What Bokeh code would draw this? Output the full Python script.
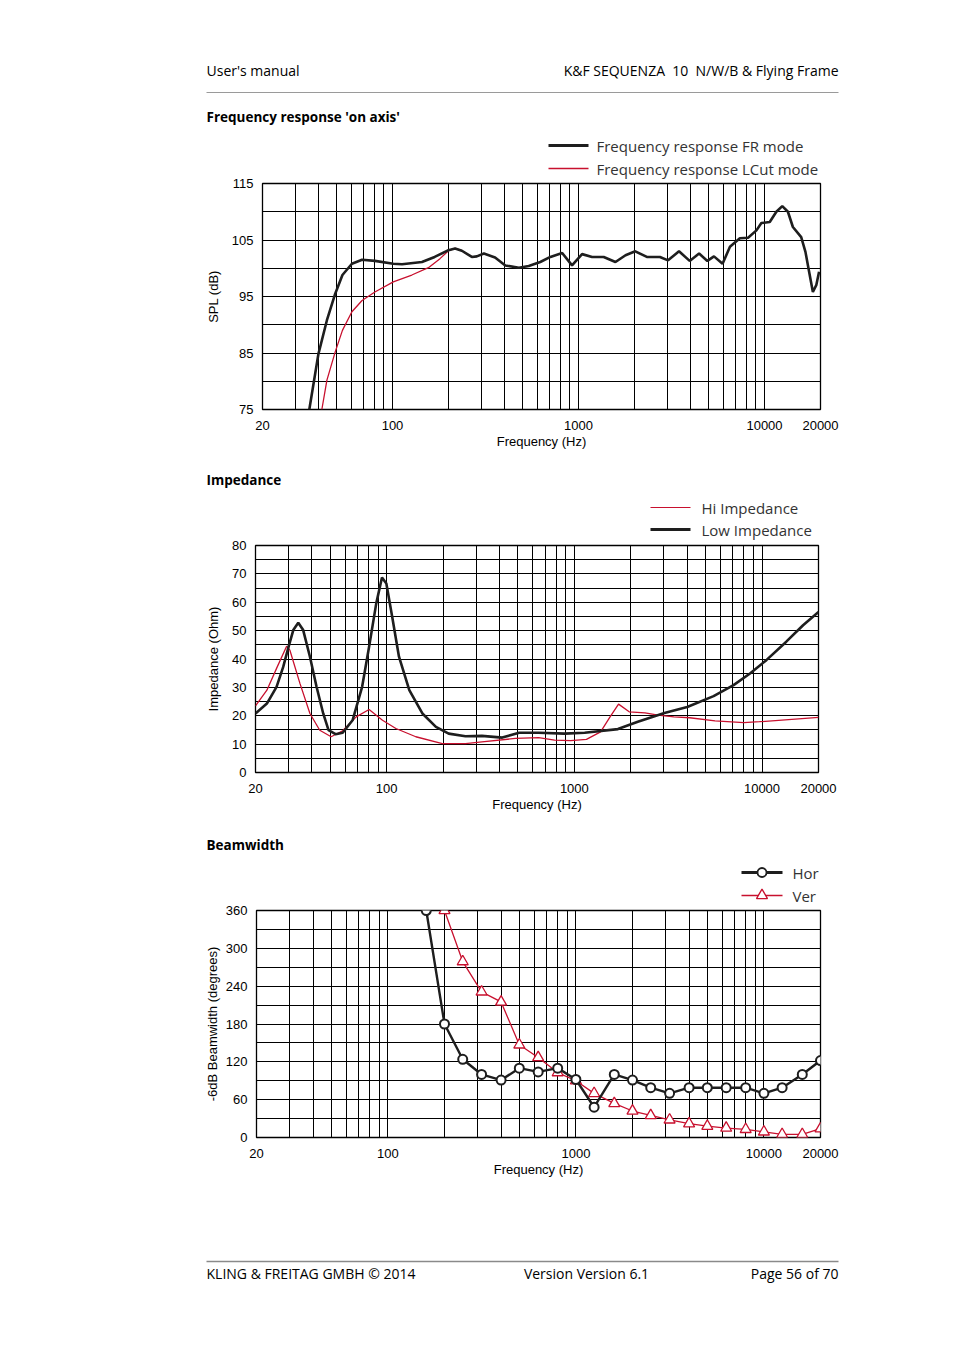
from bokeh.plotting import figure
from bokeh.models import Range1d, FixedTicker
from bokeh.embed import file_html
from bokeh.resources import INLINE
from bokeh.core.properties import value

# ---------------- data ----------------
header_left = "User's manual"
header_right = "K&F SEQUENZA\u00a0\u00a010\u00a0\u00a0N/W/B & Flying Frame"
footer_left = "KLING & FREITAG GMBH \u00a9 2014"
footer_center = "Version Version 6.1"
footer_right = "Page 56 of 70"

x_tick_values = [20, 100, 1000, 10000, 20000]
x_tick_labels = ["20", "100", "1000", "10000", "20000"]
x_grid_values = [30, 40, 50, 60, 70, 80, 90, 100, 200, 300, 400, 500, 600, 700, 800, 900,
                 1000, 2000, 3000, 4000, 5000, 6000, 7000, 8000, 9000, 10000]

# Frequency response
fr_title = "Frequency response 'on axis'"
fr_labels = ["Frequency response FR mode", "Frequency response LCut mode"]
spl_ticks = [75, 85, 95, 105, 115]
spl_grid = [75, 80, 85, 90, 95, 100, 105, 110, 115]
fr_freq = [35.7, 40, 44.4, 49.2, 53.8, 60.5, 68.6, 80.4, 101, 112.5, 144, 168.5, 200, 217, 236,
           267, 284, 310, 356, 404, 478, 540, 623, 706, 817, 923, 1045, 1183, 1366, 1580, 1790,
           2020, 2330, 2740, 3030, 3470, 3960, 4450, 4930, 5350, 5950, 6520, 7370, 8160, 9050,
           9620, 10670, 11580, 12460, 13360, 14210, 15750, 16600, 17300, 18200, 18980, 19650]
fr_spl = [75.0, 84.9, 90.8, 95.5, 98.8, 100.8, 101.5, 101.3, 100.8, 100.7, 101.1, 102.0, 103.2, 103.5, 103.1,
          102.0, 102.1, 102.6, 101.9, 100.5, 100.1, 100.4, 101.1, 102.0, 102.7, 100.5, 102.5, 102.0, 102.0, 101.1, 102.3,
          103.0, 102.0, 102.0, 101.4, 103.0, 101.3, 102.6, 101.3, 102.1, 100.8, 103.8, 105.3, 105.4, 106.7,
          108.0, 108.2, 110.0, 111.0, 110.0, 107.3, 105.5, 102.9, 99.7, 95.8, 97.0, 99.4]
lcut_freq = [41.7, 44.4, 49.2, 53.8, 60.5, 68.6, 80.4, 101, 127, 156, 180, 200, 217, 236, 267, 284, 310, 356]
lcut_spl = [75.0, 80.2, 85.2, 89.0, 92.3, 94.3, 95.8, 97.6, 98.8, 100.1, 101.7, 103.1, 103.5, 103.1, 102.0, 102.1, 102.6, 101.9]

# Impedance
imp_title = "Impedance"
imp_labels = ["Hi Impedance", "Low Impedance"]
imp_ticks = [0, 10, 20, 30, 40, 50, 60, 70, 80]
imp_grid = [0, 5, 10, 15, 20, 25, 30, 35, 40, 45, 50, 55, 60, 65, 70, 75, 80]
low_freq = [20, 23.0, 25.9, 28.1, 30, 31.8, 33.8, 35.9, 39.0, 42.3, 45.9, 49.0, 53.4, 58.3, 65.8, 74.0,
            80.6, 88.0, 94.4, 99.6, 107, 116.3, 132, 155, 183, 214, 263, 322, 413, 508, 645, 887,
            1135, 1707, 2179, 3020, 3996, 5520, 7050, 8630, 10550, 13470, 16550, 20000]
low_ohm = [20.8, 24.3, 30.2, 37.2, 44.3, 50.2, 52.8, 50.2, 40.8, 30.2, 20.8, 14.9, 13.5, 14.0, 18.4, 30.2,
           44.3, 59.6, 68.7, 66.6, 54.9, 40.8, 29.0, 20.8, 16.1, 13.7, 12.8, 12.9, 12.3, 14.0, 14.0, 13.7,
           14.0, 15.3, 17.9, 21.0, 23.1, 26.9, 30.8, 34.9, 39.6, 46.1, 51.9, 56.6]
hi_freq = [20, 23.0, 25.9, 29.3, 30.5, 34.5, 39.0, 44.0, 50.6, 58.3, 68.8, 80.6, 95.0, 112, 143, 198,
           263, 322, 486, 645, 785, 955, 1160, 1380, 1550, 1720, 1960, 2380, 2790, 3390, 4120, 5620,
           8000, 9700, 20000]
hi_ohm = [23.5, 29.0, 36.7, 44.5, 43.1, 31.4, 20.8, 14.9, 12.6, 14.7, 19.6, 22.2, 18.4, 15.5, 12.6, 10.2,
          10.2, 10.8, 12.0, 12.3, 11.4, 11.2, 11.7, 14.3, 19.6, 24.1, 21.4, 21.0, 20.2, 19.6, 19.3, 18.2,
          17.6, 17.9, 19.4]

# Beamwidth
bw_title = "Beamwidth"
bw_labels = ["Hor", "Ver"]
bw_ticks = [0, 60, 120, 180, 240, 300, 360]
bw_grid = [0, 30, 60, 90, 120, 150, 180, 210, 240, 270, 300, 330, 360]
hor_freq = [160, 200, 250, 315, 400, 500, 630, 800, 1000, 1250, 1600, 2000, 2500, 3150, 4000, 5000,
            6300, 8000, 10000, 12500, 16000, 20000]
hor_deg = [360, 180, 124, 100, 91, 110, 104, 110, 92, 48, 100, 91, 79, 70, 79, 79, 79, 79, 70, 79, 100, 122]
ver_freq = [200, 250, 315, 400, 500, 630, 800, 1000, 1250, 1600, 2000, 2500, 3150, 4000, 5000,
            6300, 8000, 10000, 12500, 16000, 20000]
ver_deg = [360, 279, 231, 215, 147, 127, 103, 90, 70, 54, 42, 35, 28, 22, 18, 15, 13, 9, 5, 5, 14]

# ---------------- style ----------------
W = 954
SANS = "Open Sans"
AX = "Liberation Sans"
RED = "#c8102e"
BLACK = "#1e1e1e"
LEG_TXT = "#333333"
OVERLAP = 12  # strips overlap the next chart a little (chart canvas is transparent there)


def text_fig(y0, y1):
    """A blank strip of the page; its data coordinates are page pixels."""
    p = figure(width=W, height=y1 - y0, x_range=Range1d(0, W), y_range=Range1d(y1, y0),
               x_axis_type=None, y_axis_type=None, toolbar_location=None,
               output_backend="svg", min_border=0, title=None)
    p.outline_line_color = None
    return p


def put_text(p, x, y, text, size="14px", align="left", bold=False, color="black"):
    p.text(x=[x], y=[y], text=[text], text_font=value(SANS), text_font_size=size,
           text_font_style="bold" if bold else "normal", text_color=color,
           text_baseline="middle", text_align=align)


def legend_row(p, x0, x1, y, tx, label, color, width, marker=None, msize=9):
    p.segment(x0=[x0], y0=[y], x1=[x1], y1=[y], line_color=color, line_width=width)
    if marker:
        p.scatter(x=[(x0 + x1) / 2], y=[y], marker=marker, size=msize, fill_color="white",
                  line_color=color, line_width=1.8 if marker == "circle" else 1.3)
    put_text(p, tx, y, label, size="15px", color=LEG_TXT)


def chart(y0, y1, left, fw, fh, yr, yticks, ygrid, ytitle, ystand):
    h = y1 - y0
    top = 7
    p = figure(width=W, height=h, x_axis_type="log", x_range=Range1d(20, 20000),
               y_range=Range1d(*yr), toolbar_location=None, output_backend="svg", title=None,
               min_border_left=left, min_border_right=W - left - fw,
               min_border_top=top, min_border_bottom=h - top - fh)
    p.margin = (-OVERLAP, 0, 0, 0)
    p.border_fill_alpha = 0
    p.background_fill_alpha = 0
    p.outline_line_color = "black"
    p.outline_line_width = 1.3
    p.xaxis.ticker = FixedTicker(ticks=x_tick_values)
    p.xaxis.major_label_overrides = dict(zip(x_tick_values, x_tick_labels))
    p.yaxis.ticker = FixedTicker(ticks=yticks)
    p.xgrid.ticker = FixedTicker(ticks=x_grid_values)
    p.ygrid.ticker = FixedTicker(ticks=ygrid)
    for g in (p.xgrid[0], p.ygrid[0]):
        g.grid_line_color = "black"
        g.grid_line_width = 1
    for ax in (p.xaxis[0], p.yaxis[0]):
        ax.axis_line_color = None
        ax.major_tick_line_color = None
        ax.minor_tick_line_color = None
        ax.major_tick_out = 0
        ax.major_tick_in = 0
        ax.major_label_text_font = AX
        ax.major_label_text_font_size = "13px"
        ax.major_label_text_color = "black"
        ax.axis_label_text_font = AX
        ax.axis_label_text_font_size = "13px"
        ax.axis_label_text_font_style = "normal"
        ax.axis_label_text_color = "black"
    p.xaxis.major_label_standoff = 11
    p.yaxis.major_label_standoff = 9
    p.xaxis.axis_label = "Frequency (Hz)"
    p.xaxis.axis_label_standoff = 1
    p.yaxis.axis_label = ytitle
    p.yaxis.axis_label_standoff = ystand
    return p


# ---------------- header + chart 1 heading / legend ----------------
t1 = text_fig(0, 176 + OVERLAP)
put_text(t1, 206, 70, header_left)
put_text(t1, 838, 70, header_right, align="right")
t1.segment(x0=[206], y0=[92], x1=[838], y1=[92], line_color="#9a9a9a", line_width=1)
put_text(t1, 206, 116, fr_title, size="13.5px", bold=True)
legend_row(t1, 548, 588, 145, 596, fr_labels[0], BLACK, 3)
legend_row(t1, 548, 588, 168, 596, fr_labels[1], RED, 1.3)

# ---------------- chart 1 ----------------
p1 = chart(176, 455, 262, 558, 226, (75, 115), spl_ticks, spl_grid, "SPL (dB)", 8)
p1.line(lcut_freq, lcut_spl, line_color=RED, line_width=1.3)
p1.line(fr_freq, fr_spl, line_color=BLACK, line_width=2.6)

# ---------------- chart 2 heading / legend ----------------
t2 = text_fig(455, 538 + OVERLAP)
put_text(t2, 206, 479, imp_title, size="13.5px", bold=True)
legend_row(t2, 650, 690, 507, 701, imp_labels[0], RED, 1.2)
legend_row(t2, 650, 690, 529, 701, imp_labels[1], BLACK, 3)

# ---------------- chart 2 ----------------
p2 = chart(538, 820, 255, 563, 227, (0, 80), imp_ticks, imp_grid, "Impedance (Ohm)", 8)
p2.line(hi_freq, hi_ohm, line_color=RED, line_width=1.3)
p2.line(low_freq, low_ohm, line_color=BLACK, line_width=2.6)

# ---------------- chart 3 heading / legend ----------------
t3 = text_fig(820, 903 + OVERLAP)
put_text(t3, 206, 844, bw_title, size="13.5px", bold=True)
legend_row(t3, 741, 782, 872, 792, bw_labels[0], BLACK, 3, marker="circle", msize=9)
legend_row(t3, 741, 782, 895, 792, bw_labels[1], RED, 1.4, marker="triangle", msize=11)

# ---------------- chart 3 ----------------
p3 = chart(903, 1185, 256, 564, 227, (0, 360), bw_ticks, bw_grid, "-6dB Beamwidth (degrees)", 3)
p3.line(ver_freq, ver_deg, line_color=RED, line_width=1.3)
p3.scatter(ver_freq, ver_deg, marker="triangle", size=11, fill_color="white",
           line_color=RED, line_width=1.3)
p3.line(hor_freq, hor_deg, line_color=BLACK, line_width=2.4)
p3.scatter(hor_freq, hor_deg, marker="circle", size=9, fill_color="white",
           line_color=BLACK, line_width=2)

# ---------------- footer ----------------
t4 = text_fig(1185, 1290)
t4.segment(x0=[206], y0=[1261], x1=[838], y1=[1261], line_color="#8a8a8a", line_width=1.5)
put_text(t4, 206, 1273, footer_left)
put_text(t4, 586, 1273, footer_center, align="center")
put_text(t4, 838, 1273, footer_right, align="right")

open("out.html", "w").write(file_html([t1, p1, t2, p2, t3, p3, t4], INLINE))
